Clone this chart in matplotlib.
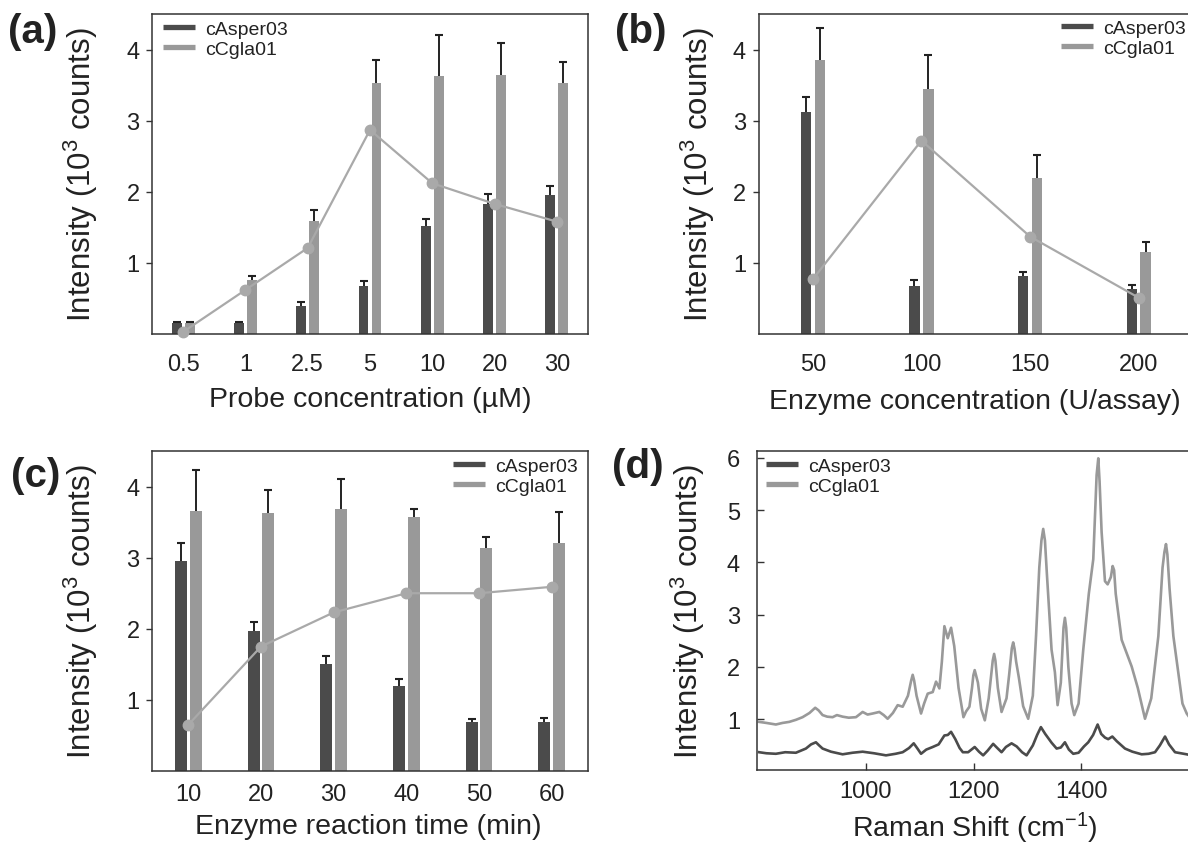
import numpy as np
import matplotlib
matplotlib.use('Agg')
import matplotlib.pyplot as plt
from matplotlib.lines import Line2D

plt.rcParams['font.family'] = ['Liberation Sans', 'DejaVu Sans']
plt.rcParams['mathtext.fontset'] = 'custom'
plt.rcParams['mathtext.rm'] = 'Liberation Sans'
plt.rcParams['mathtext.it'] = 'Liberation Sans:italic'
plt.rcParams['text.color'] = '#222222'
plt.rcParams['axes.edgecolor'] = '#333333'
plt.rcParams['xtick.color'] = '#333333'
plt.rcParams['ytick.color'] = '#333333'
plt.rcParams['xtick.labelcolor'] = '#222222'
plt.rcParams['ytick.labelcolor'] = '#222222'

# (a) probe concentration
conc_labels = ['0.5', '1', '2.5', '5', '10', '20', '30']
asper_a = [0.15, 0.16, 0.40, 0.67, 1.52, 1.83, 1.96]
asper_a_err = [0.02, 0.01, 0.05, 0.07, 0.10, 0.14, 0.12]
cgla_a = [0.155, 0.76, 1.59, 3.53, 3.63, 3.64, 3.53]
cgla_a_err = [0.01, 0.06, 0.155, 0.33, 0.57, 0.45, 0.30]
ratio_a = [0.03, 0.62, 1.21, 2.87, 2.12, 1.83, 1.58]

# (b) enzyme concentration
enz_labels = ['50', '100', '150', '200']
asper_b = [3.12, 0.67, 0.81, 0.63]
asper_b_err = [0.21, 0.09, 0.06, 0.06]
cgla_b = [3.85, 3.44, 2.20, 1.16]
cgla_b_err = [0.45, 0.49, 0.32, 0.13]
ratio_b = [0.77, 2.72, 1.37, 0.51]

# (c) reaction time
time_labels = ['10', '20', '30', '40', '50', '60']
asper_c = [2.95, 1.97, 1.51, 1.19, 0.69, 0.69]
asper_c_err = [0.25, 0.12, 0.11, 0.10, 0.04, 0.06]
cgla_c = [3.66, 3.63, 3.69, 3.57, 3.13, 3.21]
cgla_c_err = [0.57, 0.32, 0.42, 0.11, 0.16, 0.43]
ratio_c = [0.65, 1.75, 2.23, 2.50, 2.50, 2.59]

# (d) Raman spectra
cgla_shift = [801.5, 815, 832.6, 845, 857.4, 870, 882.2, 895, 905.7, 912, 919.4, 928,
              938, 946, 956.6, 968, 981.4, 993.8, 1003, 1012.4, 1024.8, 1033, 1040.3,
              1050, 1058.9, 1068.2, 1078, 1084, 1086.8, 1089.5, 1094, 1102.3, 1108,
              1114.7, 1124, 1130.2, 1136.4, 1141, 1145.7, 1151.9, 1158.1, 1164, 1172,
              1181.1, 1186, 1192.2, 1197, 1199.5, 1202, 1204.5, 1208, 1214, 1220.8,
              1228, 1235.5, 1238.1, 1240.5, 1245, 1251.9, 1261.1, 1266, 1271, 1273.5,
              1276, 1279, 1284, 1292, 1301.4, 1310, 1316, 1322, 1326, 1329.3, 1332.5,
              1336, 1344.8, 1351, 1356, 1362, 1367, 1369.6, 1372, 1376, 1382, 1387,
              1395, 1403.7, 1414, 1422.3, 1428.5, 1431.6, 1434, 1437.8, 1444, 1449,
              1455, 1458.3, 1461, 1464, 1475, 1493.6, 1505, 1518.4, 1530, 1543.2, 1551,
              1554.5, 1557.4, 1560, 1564, 1571.1, 1580.4, 1588, 1595.9, 1600]
cgla_int = [0.95, 0.93, 0.90, 0.93, 0.95, 0.99, 1.04, 1.12, 1.22, 1.17, 1.08, 1.05,
            1.04, 1.08, 1.05, 1.03, 1.04, 1.14, 1.09, 1.11, 1.14, 1.08, 1.01,
            1.12, 1.27, 1.24, 1.45, 1.74, 1.85, 1.74, 1.45, 1.11, 1.30,
            1.49, 1.52, 1.72, 1.59, 2.10, 2.78, 2.55, 2.75, 2.40, 1.60,
            1.04, 1.15, 1.24, 1.60, 1.84, 1.94, 1.84, 1.70, 1.20, 0.98,
            1.40, 2.12, 2.25, 2.12, 1.60, 1.14, 1.40, 1.85, 2.36, 2.47,
            2.35, 2.10, 1.80, 1.25, 1.01, 1.45, 2.60, 3.90, 4.42, 4.64, 4.42,
            3.80, 2.33, 1.90, 1.27, 1.70, 2.75, 2.94, 2.75, 2.00, 1.30, 1.08,
            1.30, 2.33, 3.40, 4.06, 5.67, 5.99, 5.55, 4.58, 3.64, 3.58,
            3.72, 3.93, 3.85, 3.40, 2.52, 2.01, 1.60, 1.01, 1.40, 2.59, 3.90,
            4.20, 4.35, 4.15, 3.50, 2.59, 1.88, 1.30, 1.11, 1.05]
asper_shift = [801.5, 815, 832.6, 850, 869.8, 888.4, 898, 907, 913, 919.4, 935, 956.6,
               975, 993.8, 1015, 1037.2, 1055, 1068.2, 1080, 1088.7, 1095, 1102.3, 1112,
               1124, 1135, 1145.7, 1152, 1158.1, 1166, 1174, 1180, 1189.8, 1202, 1210,
               1217.7, 1226, 1236.3, 1244, 1251.9, 1260, 1270.5, 1280, 1290, 1298.4,
               1310, 1318, 1325, 1333, 1345, 1354.2, 1362, 1369.6, 1377, 1385.1, 1395,
               1405, 1413, 1422, 1430.4, 1437, 1444, 1450, 1457.7, 1466, 1481.2, 1495,
               1512.2, 1525, 1537, 1546, 1555.6, 1563, 1574.2, 1585, 1595.9, 1600]
asper_int = [0.37, 0.35, 0.34, 0.37, 0.36, 0.44, 0.52, 0.56, 0.50, 0.44, 0.38, 0.33,
             0.36, 0.38, 0.35, 0.31, 0.34, 0.37, 0.45, 0.54, 0.45, 0.34, 0.42,
             0.47, 0.52, 0.69, 0.70, 0.76, 0.62, 0.45, 0.37, 0.37, 0.47, 0.38,
             0.31, 0.40, 0.53, 0.45, 0.37, 0.47, 0.54, 0.48, 0.37, 0.31,
             0.50, 0.70, 0.85, 0.72, 0.55, 0.44, 0.46, 0.56, 0.42, 0.34, 0.36,
             0.48, 0.56, 0.70, 0.90, 0.72, 0.65, 0.62, 0.67, 0.58, 0.44, 0.38,
             0.33, 0.34, 0.37, 0.50, 0.67, 0.52, 0.37, 0.35, 0.33, 0.32]

DARK = '#4b4b4b'
LIGHT = '#999999'
LINE = '#a9a9a9'
W, H = 1188, 845

fig = plt.figure(figsize=(W / 100, H / 100), dpi=100)


def rect(left, right, top, bottom):
    return [left / W, 1 - bottom / H, (right - left) / W, (bottom - top) / H]


handles = [Line2D([], [], color=DARK, lw=3.8, solid_capstyle='butt'),
           Line2D([], [], color=LIGHT, lw=3.8, solid_capstyle='butt')]
names = ['cAsper03', 'cCgla01']


def add_legend(ax, x_px, y_px):
    ax.legend(handles, names, loc='upper left', bbox_to_anchor=(x_px / W, 1 - y_px / H),
              bbox_transform=fig.transFigure, frameon=False, fontsize=14,
              borderpad=0, borderaxespad=0, handlelength=1.65, handletextpad=0.5,
              labelspacing=0.15)


def bar_panel(ax, labels, asper, asper_err, cgla, cgla_err, ratio, width, offset, xpad):
    x = np.arange(len(labels))
    ax.bar(x - offset, asper, width, color=DARK, zorder=2)
    ax.bar(x + offset, cgla, width, color=LIGHT, zorder=2)
    for xs, vals, errs in [(x - offset, asper, asper_err), (x + offset, cgla, cgla_err)]:
        vals = np.array(vals)
        errs = np.array(errs)
        ax.errorbar(xs, vals, yerr=[np.zeros_like(errs), errs], fmt='none',
                    ecolor='#222222', elinewidth=1.4, capsize=0, zorder=3)
        ax.plot(xs, vals + errs, ls='none', marker='_', ms=6, mew=1.5,
                color='#222222', zorder=3)
    ax.plot(x, ratio, color=LINE, lw=1.6, marker='o', ms=7.5, mfc=LINE, mec=LINE,
            zorder=4, clip_on=False)
    ax.set_xlim(-0.5, len(labels) - 0.5)
    ax.set_ylim(0, 4.5)
    ax.set_xticks(x)
    ax.set_xticklabels(labels)
    ax.set_yticks([1, 2, 3, 4])
    ax.tick_params(axis='x', length=0, pad=xpad, labelsize=17)
    ax.tick_params(axis='y', direction='out', length=4, width=1, pad=5, labelsize=17)
    for s in ax.spines.values():
        s.set_linewidth(1.1)


# (a)
ax_a = fig.add_axes(rect(152, 588, 15, 335))
bar_panel(ax_a, conc_labels, asper_a, asper_a_err, cgla_a, cgla_a_err, ratio_a,
          0.157, 0.104, 13.5)
add_legend(ax_a, 163, 21)

# (b)
ax_b = fig.add_axes(rect(758.5, 1193, 15, 335))
bar_panel(ax_b, enz_labels, asper_b, asper_b_err, cgla_b, cgla_b_err, ratio_b,
          0.095, 0.064, 13.5)
add_legend(ax_b, 1061, 20)

# (c)
ax_c = fig.add_axes(rect(152, 588, 452, 772))
bar_panel(ax_c, time_labels, asper_c, asper_c_err, cgla_c, cgla_c_err, ratio_c,
          0.165, 0.103, 8.5)
add_legend(ax_c, 453, 458)

# (d)
ax_d = fig.add_axes(rect(756.7, 1190, 452, 771))
ax_d.plot(cgla_shift, cgla_int, color=LIGHT, lw=1.9, zorder=2)
ax_d.plot(asper_shift, asper_int, color=DARK, lw=1.9, zorder=3)
ax_d.set_xlim(797, 1602)
ax_d.set_ylim(0.03, 6.13)
ax_d.set_xticks([1000, 1200, 1400])
ax_d.set_yticks([1, 2, 3, 4, 5, 6])
ax_d.tick_params(axis='both', direction='in', length=5, width=1, labelsize=17)
ax_d.tick_params(axis='x', pad=7)
ax_d.tick_params(axis='y', pad=12)
for s in ax_d.spines.values():
    s.set_linewidth(1.1)
add_legend(ax_d, 766, 458)

# axis titles placed by hand to match the layout
ylab = 'Intensity (10$^3$ counts)'
for xc, yc in [(81, 175), (698, 175), (81, 612), (688, 612)]:
    fig.text(xc / W, 1 - yc / H, ylab, rotation=90, ha='center', va='center', fontsize=22.5)

xlabels = [('Probe concentration (\u00b5M)', 370, 400),
           ('Enzyme concentration (U/assay)', 975, 402),
           ('Enzyme reaction time (min)', 368, 827),
           ('Raman Shift (cm$^{-1}$)', 975, 828)]
for txt, xc, yc in xlabels:
    fig.text(xc / W, 1 - yc / H, txt, ha='center', va='center', fontsize=20.5)

for lab, xc, yc in [('(a)', 33, 32), ('(b)', 641, 32), ('(c)', 36, 476), ('(d)', 638, 467)]:
    fig.text(xc / W, 1 - yc / H, lab, ha='center', va='center', fontsize=29,
             fontweight='bold')

fig.savefig('out.png', dpi=100)
